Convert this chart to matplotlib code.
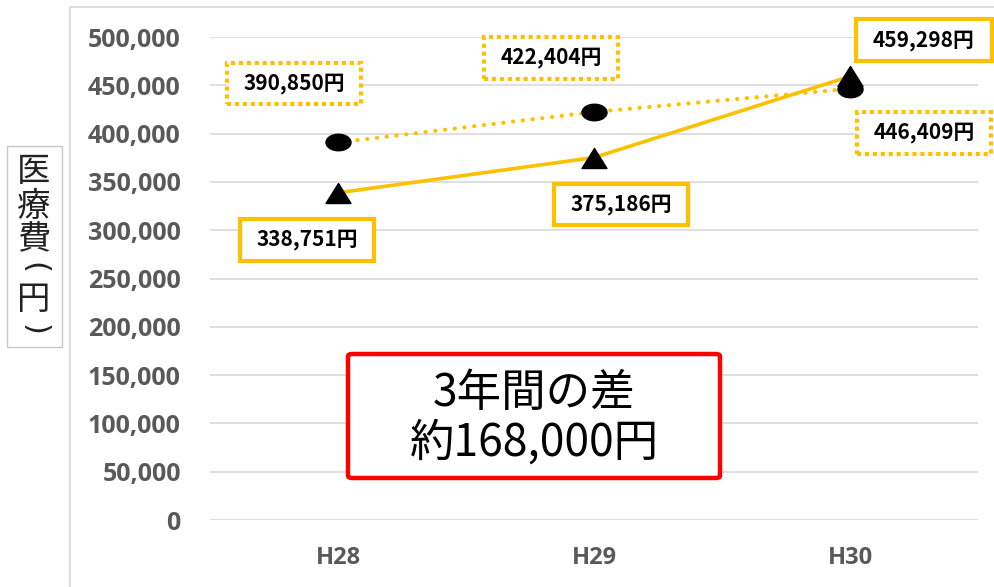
import matplotlib
matplotlib.use("Agg")
import matplotlib.pyplot as plt
import numpy as np
from matplotlib.path import Path
from matplotlib.patches import Rectangle, FancyBboxPatch
from matplotlib.ticker import FuncFormatter

# ---- data ----
categories = ["H28", "H29", "H30"]
series_solid = [338751, 375186, 459298]   # triangles, solid line
series_dotted = [390850, 422404, 446409]  # circles, dotted line
yticks = list(range(0, 500001, 50000))
ylabel_chars = ["医", "療", "費", "(", "円", ")"]
note_line1 = "3年間の差"
note_line2 = "約168,000円"

W, H = 994, 587
fig = plt.figure(figsize=(W / 100, H / 100), dpi=100)
fig.patch.set_facecolor("white")

def fx(px):
    return px / W

def fy(py):
    return 1 - py / H

ax = fig.add_axes([fx(210), fy(520), fx(978) - fx(210), fy(37) - fy(520)])
ax.set_facecolor("none")
GOLD = "#FFC000"
TICK = "#595959"
CJK = ["Noto Sans CJK JP", "DejaVu Sans"]

ax.set_ylim(0, 500000)
ax.set_xlim(-0.5, 2.5)
ax.set_yticks(yticks)
ax.yaxis.grid(True, color="#d9d9d9", lw=1.2)
ax.set_axisbelow(True)
for s in ax.spines.values():
    s.set_visible(False)
ax.tick_params(axis="both", length=0)
ax.tick_params(axis="y", pad=21, labelsize=18, labelcolor=TICK)
ax.tick_params(axis="x", pad=19, labelsize=17, labelcolor=TICK)
ax.yaxis.set_major_formatter(FuncFormatter(lambda v, p: f"{int(v):,}"))
x = np.arange(len(categories))
ax.set_xticks(x)
ax.set_xticklabels(categories)
for lab in ax.get_xticklabels() + ax.get_yticklabels():
    lab.set_fontfamily(["Open Sans", "DejaVu Sans"])
    lab.set_fontweight("bold")

# custom markers
t = np.linspace(0, 2 * np.pi, 60)
ell = Path(np.column_stack([np.cos(t), 0.66 * np.sin(t)]), closed=True)
tri = Path([(0, 0.8), (-1, -0.8), (1, -0.8), (0, 0.8)], closed=True)

ax.plot(x, series_dotted, color=GOLD, lw=3.0, ls=(0, (0.05, 2.3)),
        dash_capstyle="round", zorder=3)
ax.plot(x, series_dotted, ls="none", marker=ell, ms=18, color="black", zorder=4)
ax.plot(x, series_solid, color=GOLD, lw=2.6, zorder=3)
ax.plot(x, series_solid, ls="none", marker=tri, ms=18, color="black", zorder=5)


def label_box(x0, y0, width, height, mutation_size):
    px = 0.8 * mutation_size
    py = 0.5 * mutation_size
    xa, xb = x0 - px, x0 + width + px
    ya, yb = y0 - py, y0 + height + py
    return Path([(xa, ya), (xb, ya), (xb, yb), (xa, yb), (xa, ya)], closed=True)


lab_font = dict(fontsize=15, fontweight="bold", color="black",
                family=CJK, ha="center", va="center")

solid_offsets = [(-31, -47), (27, -47), (74, 36)]
dotted_offsets = [(-44, 59), (-43, 54), (74, -44)]
for i, v in enumerate(series_solid):
    ax.annotate(f"{v:,}円", (x[i], v), xytext=solid_offsets[i], textcoords="offset pixels",
                bbox=dict(boxstyle=label_box, fc="white", ec=GOLD, lw=3),
                zorder=6, annotation_clip=False, **lab_font)
for i, v in enumerate(series_dotted):
    ax.annotate(f"{v:,}円", (x[i], v), xytext=dotted_offsets[i], textcoords="offset pixels",
                bbox=dict(boxstyle=label_box, fc="white", ec=GOLD, lw=3,
                          ls=(0, (1, 0.9))),
                zorder=6, annotation_clip=False, **lab_font)

# outer frame
fig.add_artist(Rectangle((fx(70), fy(600)), fx(1000) - fx(70), fy(7) - fy(600),
                         transform=fig.transFigure, fill=False, ec="#d9d9d9", lw=1.2))

# y label box with vertical text
fig.add_artist(Rectangle((fx(7), fy(347)), fx(62) - fx(7), fy(146) - fy(347),
                         transform=fig.transFigure, fill=False, ec="#c8c8c8", lw=1))
char_y = [172, 206, 240, 268, 299, 330]
for ch, cy in zip(ylabel_chars, char_y):
    if ch in "()":
        fig.text(fx(34), fy(cy), ch, ha="center", va="center", fontsize=22,
                 rotation=-90, color="#222222", family=["DejaVu Sans"])
    else:
        fig.text(fx(34), fy(cy), ch, ha="center", va="center", fontsize=24,
                 color="#222222", family=CJK)

# red note box
fig.add_artist(FancyBboxPatch((fx(348), fy(478)), fx(720) - fx(348), fy(354) - fy(478),
                              boxstyle="round,pad=0,rounding_size=0.004",
                              transform=fig.transFigure, fc="white", ec="#FF0000", lw=3.2))
fig.text(fx(534), fy(393), note_line1, ha="center", va="center", fontsize=32,
         color="black", family=CJK)
fig.text(fx(534), fy(443), note_line2, ha="center", va="center", fontsize=32,
         color="black", family=CJK)

fig.savefig("out.png", dpi=100)
